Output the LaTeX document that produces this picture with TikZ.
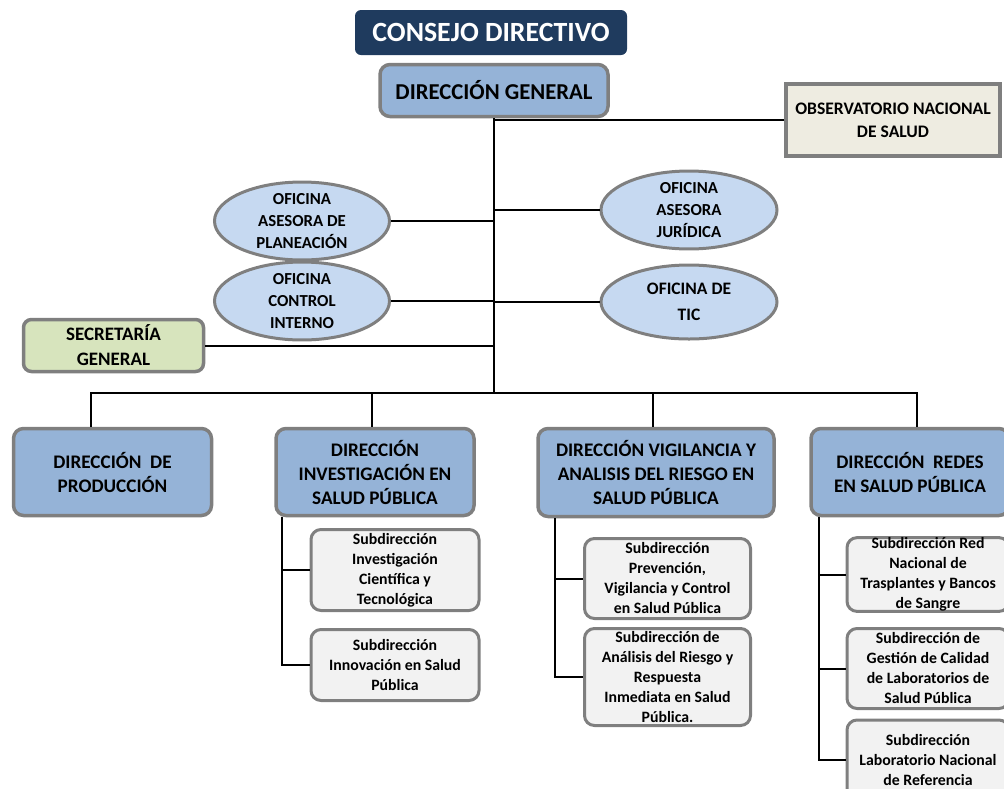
\documentclass[tikz,border=0pt]{standalone}
\usepackage{fontspec}
\setmainfont{Carlito}
\usepackage{xcolor}
\usepackage{tikz}
\usetikzlibrary{shapes,positioning,calc}
\definecolor{navy}{HTML}{1F3B5E}
\definecolor{dirblue}{HTML}{95B3D7}
\definecolor{ofiblue}{HTML}{C6D9F1}
\definecolor{secgreen}{HTML}{D7E4BD}
\definecolor{obsbeige}{HTML}{EEECE1}
\definecolor{subgray}{HTML}{F2F2F2}
\definecolor{edgegray}{HTML}{7F7F7F}

\begin{document}
\begin{tikzpicture}[x=1pt,y=-1pt,
    dirbox/.style={draw=edgegray, line width=3.5pt, fill=dirblue, rounded corners=10pt, align=center,
        font=\bfseries\fontsize{19.2}{24}\selectfont, inner sep=0pt},
    ofinode/.style={ellipse, draw=edgegray, line width=3pt, fill=ofiblue, align=center,
        font=\bfseries\fontsize{16.8}{22}\selectfont, inner sep=0pt},
    subbox/.style={draw=edgegray, line width=3pt, fill=subgray, rounded corners=10pt, align=center,
        font=\bfseries\fontsize{15.8}{20}\selectfont, inner sep=0pt, minimum width=168pt},
    link/.style={line width=2pt, black}]
    \useasboundingbox (0,0) rectangle (1004,788);

    % Top
    \node[fill=navy, rounded corners=6pt, minimum width=272pt, minimum height=45pt, text=white,
        font=\bfseries\fontsize{27.8}{30}\selectfont] (consejo) at (491,32.5) {CONSEJO DIRECTIVO};
    \node[dirbox, minimum width=228pt, minimum height=52pt, font=\bfseries\fontsize{22.7}{26}\selectfont]
        (dirgen) at (494,90.5) {DIRECCIÓN GENERAL};
    \node[draw=edgegray, line width=3.5pt, fill=obsbeige, minimum width=214pt, minimum height=72pt,
        align=center, font=\bfseries\fontsize{17.6}{23}\selectfont] (obs) at (893,120)
        {OBSERVATORIO NACIONAL\\DE SALUD};

    % Oficinas
    \node[ofinode, minimum width=175pt, minimum height=70pt] (planea) at (302,221) {OFICINA\\ASESORA DE\\PLANEACIÓN};
    \node[ofinode, minimum width=175pt, minimum height=71pt] (control) at (302,301) {OFICINA\\CONTROL\\INTERNO};
    \node[ofinode, minimum width=176pt, minimum height=72pt] (juridica) at (689,210) {OFICINA\\ASESORA\\JURÍDICA};
    \node[ofinode, minimum width=176pt, minimum height=74pt, font=\bfseries\fontsize{17.5}{26}\selectfont]
        (tic) at (689,302) {OFICINA DE\\TIC};
    \node[draw=edgegray, line width=3.5pt, fill=secgreen, rounded corners=8pt, minimum width=180pt,
        minimum height=52pt, align=center, font=\bfseries\fontsize{19}{25}\selectfont]
        (secre) at (113.5,345.5) {SECRETARÍA\\GENERAL};

    % Direcciones
    \node[dirbox, minimum width=198pt, minimum height=87pt] (prod) at (112.5,472) {DIRECCIÓN~~DE\\PRODUCCIÓN};
    \node[dirbox, minimum width=198pt, minimum height=87pt] (inv) at (375,472) {DIRECCIÓN\\INVESTIGACIÓN EN\\SALUD PÚBLICA};
    \node[dirbox, minimum width=236pt, minimum height=88pt] (vig) at (656,472.5) {DIRECCIÓN VIGILANCIA Y\\ANALISIS DEL RIESGO EN\\SALUD PÚBLICA};
    \node[dirbox, minimum width=198pt, minimum height=87pt] (redes) at (910,472) {DIRECCIÓN~~REDES\\EN SALUD PÚBLICA};

    % Subdirecciones
    \node[subbox, minimum height=81pt] (inv1) at (395,570) {Subdirección\\Investigación\\Científica y\\Tecnológica};
    \node[subbox, minimum height=71pt] (inv2) at (395,665) {Subdirección\\Innovación en Salud\\Pública};
    \node[subbox, minimum width=166pt, minimum height=80pt] (vig1) at (667.5,578.5) {Subdirección\\Prevención,\\Vigilancia y Control\\en Salud Pública};
    \node[subbox, minimum width=166pt, minimum height=97pt] (vig2) at (667.5,677) {Subdirección de\\Análisis del Riesgo y\\Respuesta\\Inmediata en Salud\\Pública.};
    \node[subbox, minimum width=162pt, minimum height=72pt] (red1) at (928,574.5) {Subdirección Red\\Nacional de\\Trasplantes y Bancos\\de Sangre};
    \node[subbox, minimum width=162pt, minimum height=80pt] (red2) at (928,668.5) {Subdirección de\\Gestión de Calidad\\de Laboratorios de\\Salud Pública};
    \node[subbox, minimum width=162pt, minimum height=80pt] (red3) at (928,760) {Subdirección\\Laboratorio Nacional\\de Referencia};

    % Lines
    \coordinate (bus) at (494,393);
    \draw[link] (dirgen.south) -- (bus);
    \draw[link] (obs.west) -- (obs.west -| bus);
    \draw[link] (planea.east) -- (planea.east -| bus);
    \draw[link] (juridica.west) -- (juridica.west -| bus);
    \draw[link] (control.east) -- (control.east -| bus);
    \draw[link] (tic.west) -- (tic.west -| bus);
    \draw[link] (secre.east) -- (secre.east -| bus);
    \draw[link] ([xshift=-21.5pt]prod.north) |- (bus) -| ([xshift=7pt]redes.north);
    \draw[link] (bus) -| ([xshift=-3pt]inv.north);
    \draw[link] (bus) -| ([xshift=-3pt]vig.north);

    \draw[link] ([xshift=8pt]inv.south west) |- (inv2.west);
    \draw[link] ([xshift=8pt]inv.south west |- inv1.west) -- (inv1.west);
    \draw[link] ([xshift=19pt]vig.south west) |- (vig2.west);
    \draw[link] ([xshift=19pt]vig.south west |- vig1.west) -- (vig1.west);
    \draw[link] ([xshift=10pt]redes.south west) |- (red3.west);
    \draw[link] ([xshift=10pt]redes.south west |- red1.west) -- (red1.west);
    \draw[link] ([xshift=10pt]redes.south west |- red2.west) -- (red2.west);
\end{tikzpicture}
\end{document}
